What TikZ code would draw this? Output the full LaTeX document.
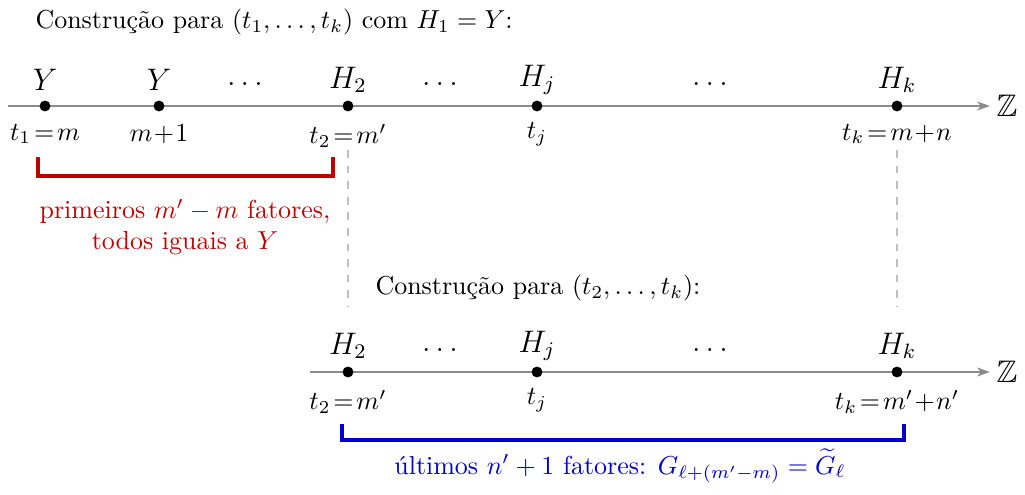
\documentclass[tikz,border=0pt]{standalone}
\usepackage{amssymb}
\usetikzlibrary{arrows.meta}
\begin{document}
\begin{tikzpicture}[x=0.385pt,y=-0.385pt,
  axis/.style={draw=black!45, line width=0.5pt, -{Stealth[length=5pt,width=3.5pt,inset=1.5pt]}},
  pt/.style={circle, fill=black, inner sep=0pt, minimum size=4.2pt},
  up/.style={font=\large, inner sep=0pt},
  lo/.style={inner sep=0pt},
  guide/.style={draw=black!25, dashed, line width=0.4pt},
  redb/.style={draw=red!75!black, line width=1.3pt},
  blueb/.style={draw=blue!80!black, line width=1.3pt}]
\useasboundingbox (0,0) rectangle (1025,495);
% title
\node[anchor=west, inner sep=0pt] (title1) at (35,22) {Construção para $(t_1,\dots,t_k)$ com $H_1=Y$:};
% top axis
\coordinate (a0) at (8,106);
\coordinate (a1) at (990,106);
\draw[axis] (a0) -- (a1);
\node[anchor=west, inner sep=0pt, font=\large] (Z1) at (996,106) {$\mathbb{Z}$};
\node[pt] (p1) at (45,106) {};
\node[pt] (p2) at (159,106) {};
\node[pt] (p3) at (348,106) {};
\node[pt] (p4) at (537,106) {};
\node[pt] (p5) at (897,106) {};
\node[up] (u1) at (45,80) {$Y$};
\node[up] (u2) at (159,80) {$Y$};
\node[up] (ud1) at (245,84) {$\dots$};
\node[up] (u3) at (348,80) {$H_2$};
\node[up] (ud2) at (440,84) {$\dots$};
\node[up] (u4) at (537,80) {$H_j$};
\node[up] (ud3) at (710,84) {$\dots$};
\node[up] (u5) at (897,80) {$H_k$};
\node[lo] (l1) at (45,134) {$t_1\!=\!m$};
\node[lo] (l2) at (159,134) {$m\!+\!1$};
\node[lo] (l3) at (348,136) {$t_2\!=\!m'$};
\node[lo] (l4) at (537,134) {$t_j$};
\node[lo] (l5) at (897,134) {$t_k\!=\!m\!+\!n$};
% red bracket
\coordinate (r0) at (38,157);
\coordinate (r1) at (333,157);
\draw[redb] (r0) -- (38,176) -- (333,176) -- (r1);
\node[text=red!75!black, align=center, inner sep=0pt] (rt) at (185,227) {primeiros $m'-m$ fatores,\\ todos iguais a $Y$};
% guides
\draw[guide] (348,150) -- (348,307);
\draw[guide] (897,150) -- (897,307);
% second title
\node[anchor=west, inner sep=0pt] (title2) at (375,288) {Construção para $(t_2,\dots,t_k)$:};
% bottom axis
\coordinate (b0) at (310,372);
\coordinate (b1) at (990,372);
\draw[axis] (b0) -- (b1);
\node[anchor=west, inner sep=0pt, font=\large] (Z2) at (996,372) {$\mathbb{Z}$};
\node[pt] (q1) at (348,372) {};
\node[pt] (q2) at (537,372) {};
\node[pt] (q3) at (897,372) {};
\node[up] (v1) at (348,346) {$H_2$};
\node[up] (vd1) at (440,350) {$\dots$};
\node[up] (v2) at (537,346) {$H_j$};
\node[up] (vd2) at (710,350) {$\dots$};
\node[up] (v3) at (897,346) {$H_k$};
\node[lo] (m1) at (348,402) {$t_2\!=\!m'$};
\node[lo] (m2) at (537,400) {$t_j$};
\node[lo] (m3) at (897,402) {$t_k\!=\!m'\!+\!n'$};
% blue bracket
\coordinate (s0) at (342,424);
\coordinate (s1) at (904,424);
\draw[blueb] (s0) -- (342,440) -- (904,440) -- (s1);
\node[text=blue!80!black, inner sep=0pt] (bt) at (620,466) {últimos $n'+1$ fatores: $G_{\ell+(m'-m)}=\widetilde{G}_\ell$};
\end{tikzpicture}
\end{document}
